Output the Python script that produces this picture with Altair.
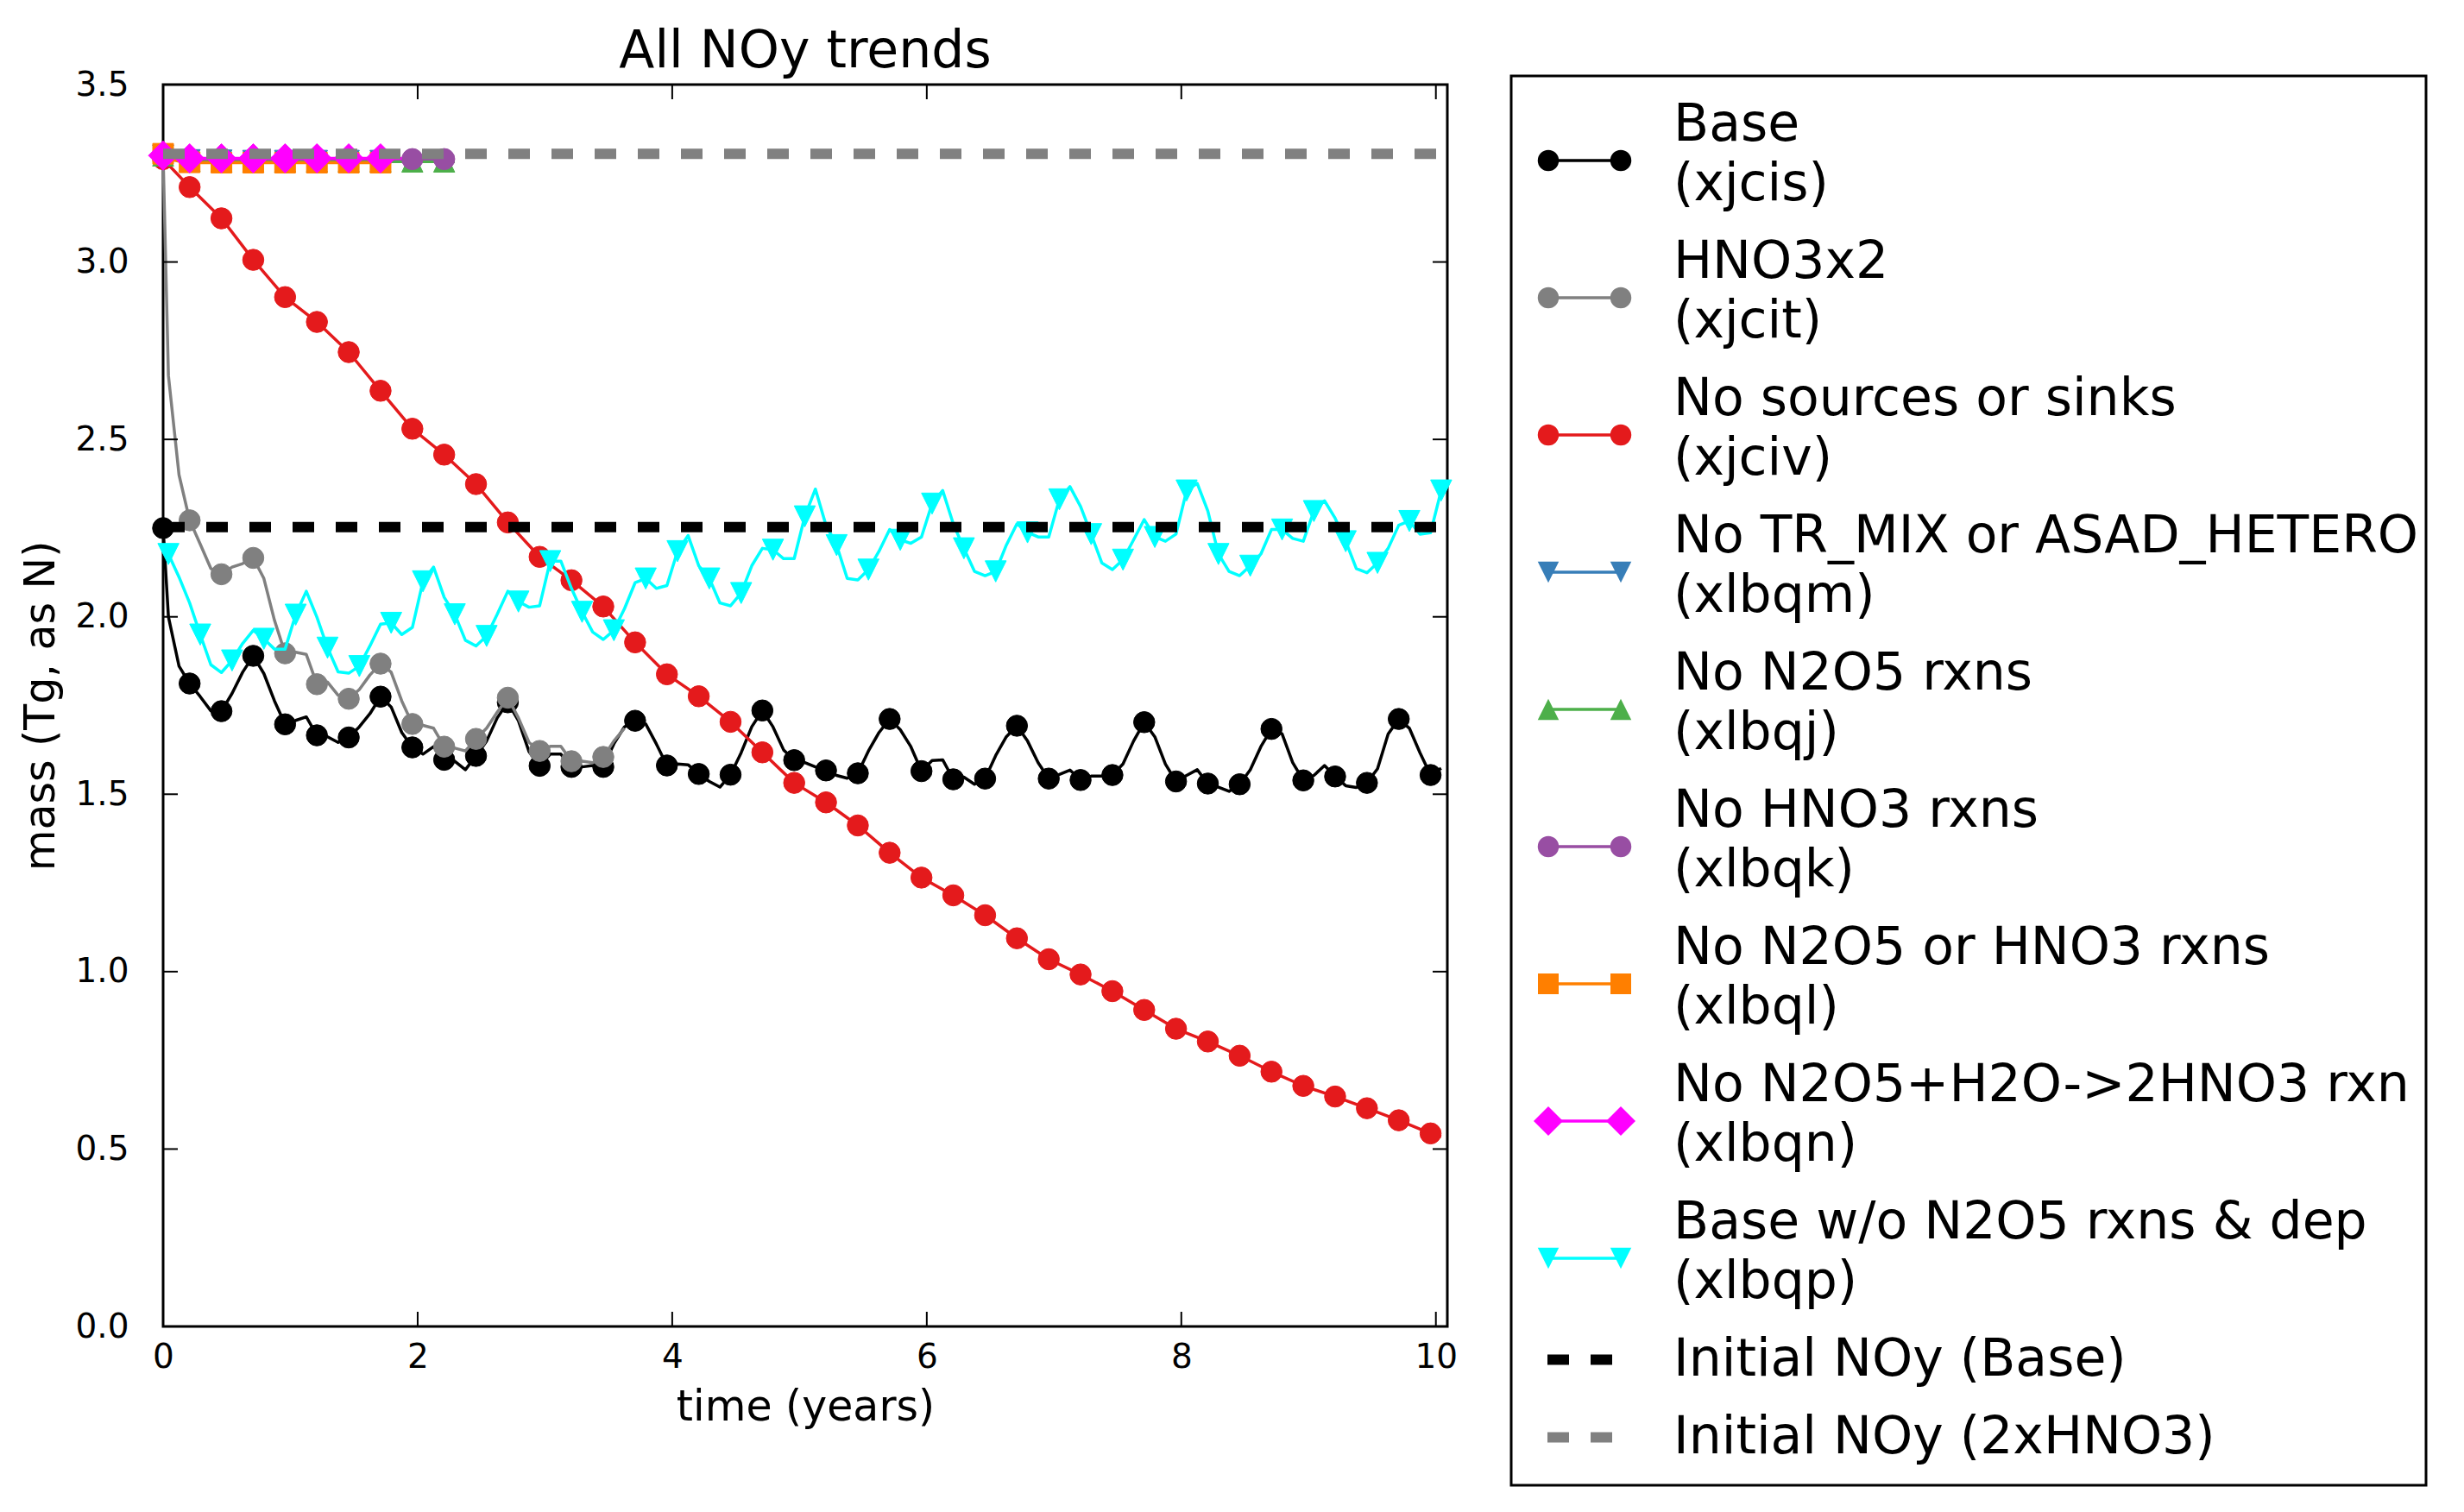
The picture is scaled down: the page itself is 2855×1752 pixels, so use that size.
import altair as alt
import pandas as pd

# ---------------- data ----------------
N_MONTHS = 121
MONTH_T = [(m + 0.5) / 12 for m in range(N_MONTHS)]     # mid-month times (years)
T_WITH_INIT = [0.0] + MONTH_T                           # initial state + monthly means

BASE = [2.25,
        2.000, 1.861, 1.812, 1.775, 1.735, 1.734, 1.784, 1.844, 1.890, 1.840, 1.763, 1.697,
        1.708, 1.718, 1.666, 1.662, 1.646, 1.660, 1.690, 1.727, 1.775, 1.746, 1.674, 1.632,
        1.613, 1.634, 1.597, 1.593, 1.569, 1.608, 1.650, 1.715, 1.759, 1.707, 1.620, 1.580,
        1.613, 1.613, 1.577, 1.577, 1.581, 1.577, 1.642, 1.690, 1.707, 1.698, 1.642, 1.581,
        1.585, 1.583, 1.557, 1.536, 1.520, 1.555, 1.617, 1.690, 1.736, 1.690, 1.625, 1.596,
        1.589, 1.577, 1.567, 1.553, 1.545, 1.559, 1.622, 1.674, 1.712, 1.682, 1.634, 1.565,
        1.595, 1.597, 1.542, 1.548, 1.528, 1.544, 1.609, 1.662, 1.693, 1.650, 1.589, 1.544,
        1.556, 1.568, 1.540, 1.551, 1.551, 1.554, 1.585, 1.650, 1.703, 1.662, 1.585, 1.536,
        1.553, 1.569, 1.530, 1.520, 1.508, 1.528, 1.569, 1.634, 1.684, 1.670, 1.589, 1.539,
        1.553, 1.581, 1.550, 1.524, 1.519, 1.532, 1.572, 1.670, 1.712, 1.686, 1.617, 1.554,
        1.573]

HNO3X2 = [3.30,
          2.680, 2.400, 2.272, 2.205, 2.136, 2.120, 2.140, 2.150, 2.166, 2.108, 1.990, 1.897,
          1.900, 1.894, 1.810, 1.816, 1.779, 1.769, 1.795, 1.836, 1.868, 1.844, 1.763, 1.698,
          1.694, 1.686, 1.634, 1.630, 1.622, 1.656, 1.686, 1.731, 1.772, 1.715, 1.646, 1.622,
          1.635, 1.635, 1.593, 1.593, 1.589, 1.605, 1.650, 1.686]

NO_SRC_MONTHS = [None] + list(range(2, 120, 3)) + [120]   # None = initial state
NO_SRC = [3.29, 3.211, 3.123, 3.006, 2.901, 2.831, 2.746, 2.637, 2.530, 2.457, 2.374,
          2.266, 2.169, 2.103, 2.029, 1.928, 1.838, 1.776, 1.704, 1.618, 1.532,
          1.477, 1.412, 1.335, 1.265, 1.215, 1.159, 1.094, 1.035, 0.992, 0.945,
          0.892, 0.839, 0.803, 0.763, 0.718, 0.678, 0.648, 0.615, 0.581, 0.544,
          0.535]

NO_TRMIX = [3.30, 3.290, 3.288, 3.287, 3.287, 3.286, 3.286, 3.286, 3.286, 3.285, 3.285,
            3.285, 3.285, 3.285, 3.285, 3.285, 3.285, 3.285, 3.285, 3.285, 3.285, 3.285]
NO_N2O5 = [3.30, 3.290, 3.287, 3.285, 3.284, 3.283, 3.283, 3.283, 3.283, 3.283, 3.283,
           3.283, 3.283, 3.283, 3.283, 3.283, 3.283, 3.283, 3.283, 3.283, 3.283, 3.283,
           3.283, 3.283, 3.283, 3.283, 3.283, 3.283, 3.283]
NO_HNO3 = [3.30, 3.295, 3.293, 3.292, 3.291, 3.291, 3.291, 3.290, 3.290, 3.290, 3.290,
           3.290, 3.290, 3.290, 3.290, 3.290, 3.290, 3.290, 3.290, 3.290, 3.290, 3.290,
           3.290, 3.290, 3.290, 3.290, 3.290, 3.290, 3.290]
NO_N2O5_HNO3 = [3.305, 3.290, 3.284, 3.281, 3.280, 3.280, 3.280, 3.280, 3.280, 3.280,
                3.280, 3.280, 3.280, 3.280, 3.280, 3.280, 3.280, 3.280, 3.280, 3.280,
                3.280, 3.280, 3.280]
NO_N2O5_H2O = [3.30, 3.295, 3.293, 3.292, 3.292, 3.292, 3.292, 3.292, 3.292, 3.292,
               3.292, 3.292, 3.292, 3.292, 3.292, 3.292, 3.292, 3.292, 3.292, 3.292,
               3.292, 3.292, 3.292, 3.292]

BASE_NO_N2O5_DEP = [
    2.177, 2.112, 2.039, 1.950, 1.865, 1.843, 1.877, 1.925, 1.962, 1.938, 1.909, 1.909,
    2.006, 2.072, 1.999, 1.913, 1.845, 1.841, 1.861, 1.918, 1.979, 1.983, 1.950, 1.970,
    2.100, 2.140, 2.055, 2.007, 1.934, 1.918, 1.946, 2.007, 2.072, 2.043, 2.027, 2.031,
    2.157, 2.157, 2.080, 2.014, 1.957, 1.936, 1.962, 2.023, 2.096, 2.108, 2.080, 2.088,
    2.185, 2.229, 2.144, 2.108, 2.039, 2.031, 2.067, 2.144, 2.193, 2.189, 2.164, 2.164,
    2.283, 2.360, 2.258, 2.202, 2.108, 2.104, 2.133, 2.185, 2.246, 2.217, 2.207, 2.225,
    2.319, 2.356, 2.262, 2.193, 2.128, 2.116, 2.128, 2.202, 2.262, 2.238, 2.225, 2.225,
    2.331, 2.367, 2.311, 2.233, 2.152, 2.133, 2.161, 2.217, 2.274, 2.225, 2.213, 2.233,
    2.356, 2.376, 2.298, 2.177, 2.128, 2.116, 2.144, 2.177, 2.246, 2.246, 2.221, 2.213,
    2.298, 2.327, 2.278, 2.213, 2.136, 2.124, 2.152, 2.193, 2.258, 2.270, 2.233, 2.237,
    2.356]

INIT_BASE = 2.253
INIT_2XHNO3 = 3.305

TITLE = "All NOy trends"
LABELS = ["Base\n(xjcis)", "HNO3x2\n(xjcit)", "No sources or sinks\n(xjciv)",
          "No TR_MIX or ASAD_HETERO\n(xlbqm)", "No N2O5 rxns\n(xlbqj)",
          "No HNO3 rxns\n(xlbqk)", "No N2O5 or HNO3 rxns\n(xlbql)",
          "No N2O5+H2O->2HNO3 rxn\n(xlbqn)", "Base w/o N2O5 rxns & dep\n(xlbqp)",
          "Initial NOy (Base)", "Initial NOy (2xHNO3)"]
COLORS = ["#000000", "#808080", "#e41a1c", "#377eb8", "#4daf4a", "#984ea3",
          "#ff7f00", "#ff00ff", "#00ffff", "#000000", "#808080"]

TRI_DOWN = "M-1,-1L1,-1L0,1Z"
TRI_UP = "M0,-1L1,1L-1,1Z"
SHAPES = ["circle", "circle", "circle", TRI_DOWN, TRI_UP, "circle", "square",
          "diamond", TRI_DOWN, None, None]
MSIZES = [600, 600, 600, 600, 600, 600, 576, 1156, 600, 0, 0]

X_TICKS = [0, 2, 4, 6, 8, 10]
Y_TICKS = [0.0, 0.5, 1.0, 1.5, 2.0, 2.5, 3.0, 3.5]

# ---------------- build tables ----------------
def with_init(vals):
    return T_WITH_INIT[:len(vals)]

series_t = [
    with_init(BASE),
    with_init(HNO3X2),
    [0.0 if m is None else MONTH_T[m] for m in NO_SRC_MONTHS],
    with_init(NO_TRMIX),
    with_init(NO_N2O5),
    with_init(NO_HNO3),
    with_init(NO_N2O5_HNO3),
    with_init(NO_N2O5_H2O),
    MONTH_T[:len(BASE_NO_N2O5_DEP)],
]
series_v = [BASE, HNO3X2, NO_SRC, NO_TRMIX, NO_N2O5, NO_HNO3, NO_N2O5_HNO3,
            NO_N2O5_H2O, BASE_NO_N2O5_DEP]

W, H = 1488, 1439
FONT = "DejaVu Sans"
LW_LINE = 3.5

X = alt.X("t:Q", scale=alt.Scale(domain=[0, 10.09], nice=False, zero=False),
          axis=alt.Axis(values=X_TICKS, format="d", title="time (years)",
                        ticks=False, domain=False, grid=False, labelFlush=False,
                        labelFontSize=39, labelPadding=16, labelColor="black",
                        titleFontSize=49, titleFontWeight="normal", titleColor="black",
                        titlePadding=14, labelFont=FONT, titleFont=FONT))
Y = alt.Y("v:Q", scale=alt.Scale(domain=[0, 3.5], nice=False, zero=False),
          axis=alt.Axis(values=Y_TICKS, format=".1f", title="mass (Tg, as N)",
                        ticks=False, domain=False, grid=False, labelFlush=False,
                        labelFontSize=39, labelPadding=40, labelColor="black",
                        titleFontSize=49, titleFontWeight="normal", titleColor="black",
                        titlePadding=14, labelFont=FONT, titleFont=FONT))

layers = []
for k in range(9):
    ts, vs = series_t[k], series_v[k]
    n = len(vs)
    df = pd.DataFrame({"t": ts, "v": vs})
    if k == 2:
        mk = df.iloc[:n - 1]
    else:
        mk = df.iloc[::3]
    layers.append(alt.Chart(df).mark_line(color=COLORS[k], strokeWidth=LW_LINE,
                                          strokeJoin="round").encode(x=X, y=Y))
    layers.append(alt.Chart(mk).mark_point(shape=SHAPES[k], filled=True, opacity=1,
                                           size=MSIZES[k], color=COLORS[k],
                                           stroke=COLORS[k], strokeWidth=1)
                  .encode(x=X, y=Y))

t_end = MONTH_T[-1]
for val, col in [(INIT_BASE, COLORS[9]), (INIT_2XHNO3, COLORS[10])]:
    df = pd.DataFrame({"t": [0.0, t_end], "v": [val, val]})
    layers.append(alt.Chart(df).mark_line(color=col, strokeWidth=12,
                                          strokeDash=[25, 25], strokeCap="butt")
                  .encode(x=X, y=Y))

# inward ticks (matplotlib classic style)
ytk = pd.DataFrame({"v": Y_TICKS})
xtk = pd.DataFrame({"t": X_TICKS})
TL = 17
layers += [
    alt.Chart(ytk).mark_rule(color="black", strokeWidth=2).encode(
        y=Y, x=alt.value(0), x2=alt.value(TL)),
    alt.Chart(ytk).mark_rule(color="black", strokeWidth=2).encode(
        y=Y, x=alt.value(W - TL), x2=alt.value(W)),
    alt.Chart(xtk).mark_rule(color="black", strokeWidth=2).encode(
        x=X, y=alt.value(H - TL), y2=alt.value(H)),
    alt.Chart(xtk).mark_rule(color="black", strokeWidth=2).encode(
        x=X, y=alt.value(0), y2=alt.value(TL)),
]

# title as a text mark centred above the plot
layers.append(
    alt.Chart(pd.DataFrame({"title": [TITLE]})).mark_text(
        fontSize=60, font=FONT, color="black", align="center",
        baseline="alphabetic").encode(
        x=alt.value(W / 2), y=alt.value(-20), text="title:N"))

main = alt.layer(*layers).properties(
    width=W, height=H,
    view=alt.ViewBackground(stroke="black", strokeWidth=3, fill="white"),
)

# ---------------- legend panel ----------------
LW, LH = 1060, 1623
LINE_H = 69
rows_sym, rows_txt = [], []
c = 81.0
prev_h = None
for k, lab in enumerate(LABELS):
    lines = lab.split("\n")
    n = len(lines)
    h = LINE_H * n + 21
    if prev_h is not None:
        c += (prev_h + h) / 2
    prev_h = h
    sy = c + 7 * (n - 1)
    rows_sym.append({"name": lab, "sy": sy, "color": COLORS[k],
                     "shape": SHAPES[k] if SHAPES[k] else "circle",
                     "msize": MSIZES[k], "dashed": SHAPES[k] is None})
    for j, ln in enumerate(lines):
        rows_txt.append({"line": ln, "ty": c + (j - (n - 1) / 2) * LINE_H})

sym = pd.DataFrame(rows_sym)
txt = pd.DataFrame(rows_txt)
LY = alt.Scale(domain=[0, LH], reverse=True, nice=False, zero=False)

solid = sym[~sym["dashed"]]
dashed = sym[sym["dashed"]]

leg_layers = [
    alt.Chart(pd.DataFrame({"a": [0]})).mark_rect(fillOpacity=0, stroke="black",
                                                  strokeWidth=3).encode(
        x=alt.value(0), x2=alt.value(LW), y=alt.value(-10), y2=alt.value(LH)),
    alt.Chart(solid).mark_rule(strokeWidth=LW_LINE).encode(
        x=alt.value(43), x2=alt.value(127),
        y=alt.Y("sy:Q", scale=LY, axis=None),
        color=alt.Color("color:N", scale=None)),
    alt.Chart(dashed).mark_rule(strokeWidth=12, strokeDash=[25, 25],
                                strokeCap="butt").encode(
        x=alt.value(42), x2=alt.value(127),
        y=alt.Y("sy:Q", scale=LY, axis=None),
        color=alt.Color("color:N", scale=None)),
]
for xpos in (43, 127):
    leg_layers.append(
        alt.Chart(solid).mark_point(filled=True, opacity=1, strokeWidth=1).encode(
            x=alt.value(xpos),
            y=alt.Y("sy:Q", scale=LY, axis=None),
            color=alt.Color("color:N", scale=None),
            shape=alt.Shape("shape:N", scale=None),
            size=alt.Size("msize:Q", scale=None)))
leg_layers.append(
    alt.Chart(txt).mark_text(align="left", baseline="middle", fontSize=60,
                             font=FONT, color="black").encode(
        x=alt.value(188), y=alt.Y("ty:Q", scale=LY, axis=None), text="line:N"))

legend = alt.layer(*leg_layers).properties(
    width=LW, height=LH,
    view=alt.ViewBackground(stroke="transparent", fill="white"))

chart = alt.hconcat(main, legend, spacing=74, bounds="flush").configure(
    font=FONT, padding={"left": 14, "top": 20, "right": 5, "bottom": 5},
    background="white")

chart.save("out.html", embed_options={"renderer": "svg", "actions": False})
